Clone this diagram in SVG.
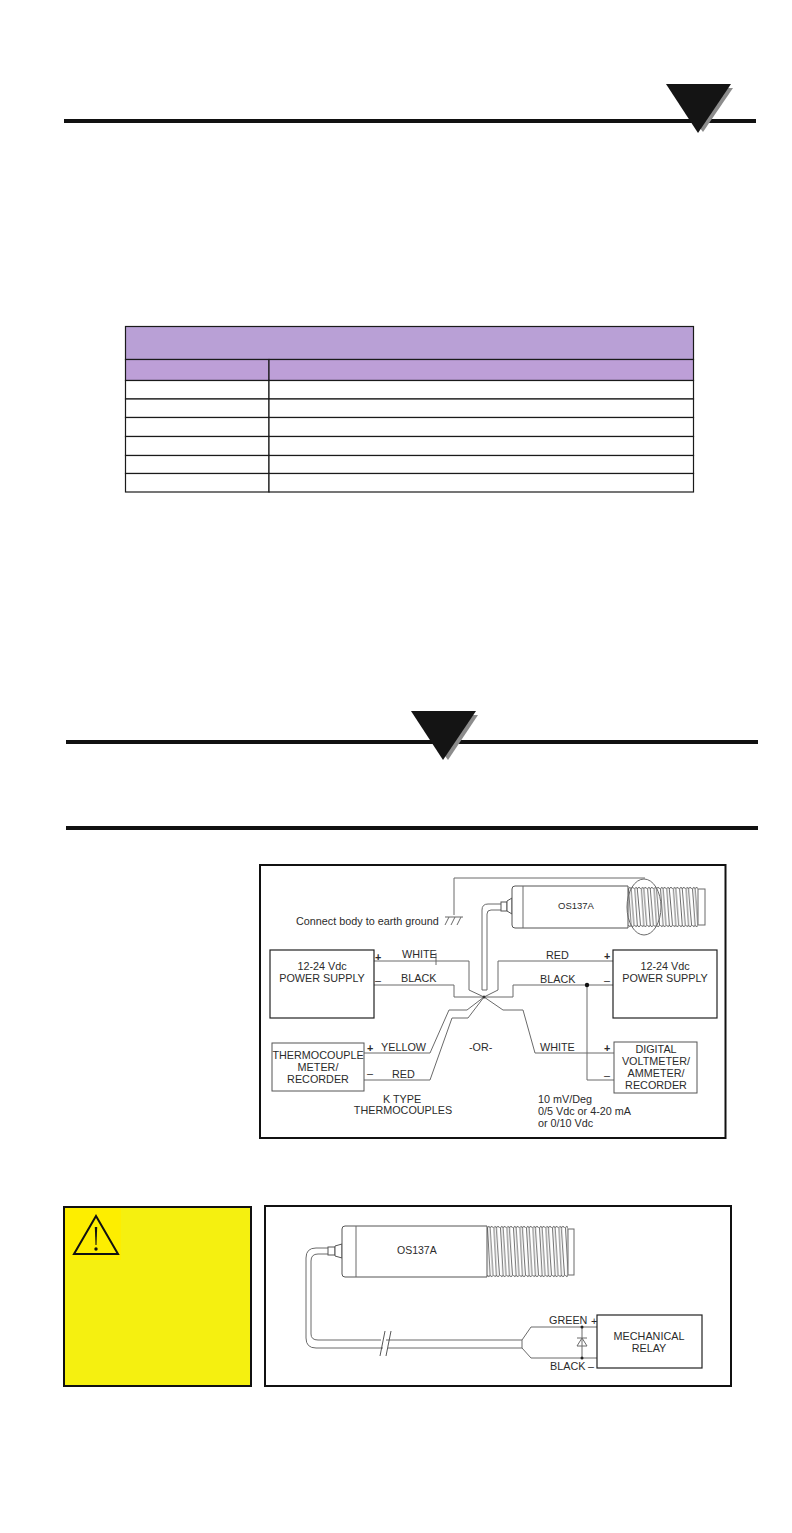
<svg xmlns="http://www.w3.org/2000/svg" width="792" height="1533" viewBox="0 0 792 1533">
<style>
text{font-family:"Liberation Sans",Arial,sans-serif;font-size:10.8px;fill:#2b2b2b}
.m{text-anchor:middle}
.w{fill:none;stroke:#6a6a6a;stroke-width:1}
.b{fill:#fff;stroke:#555;stroke-width:1}
.k{fill:#fff;stroke:#222;stroke-width:1.2}
.bar{fill:#111}
.shadow{fill:#8c8c8c}
.tri{fill:#141414}
.cell{fill:#fff;stroke:#1a1a1a;stroke-width:1.2}
.head{stroke:#1a1a1a;stroke-width:1.2}
.frame{fill:#fff;stroke:#111;stroke-width:2}
</style>
<defs>
<pattern id="thA" patternUnits="userSpaceOnUse" x="628" y="886" width="6.4" height="42">
<path d="M0.500 3Q1.800 -0.500 3 3L6 39Q4.700 42.500 3 39L0.500 3M3 3Q4.700 -0.500 6 3M0.500 39Q1.800 42.500 3 39" fill="none" stroke="#444" stroke-width="0.800"/>
</pattern>
<pattern id="thB" patternUnits="userSpaceOnUse" x="487" y="1225" width="6.5" height="53">
<path d="M0.500 3Q1.800 -0.500 3 3L6 50Q4.700 53.500 3 50L0.500 3M3 3Q4.700 -0.500 6 3M0.500 50Q1.800 53.500 3 50" fill="none" stroke="#444" stroke-width="0.800"/>
</pattern>
</defs>
<rect width="792" height="1533" fill="#fff"/>
<g id="header-rule">
<rect class="bar" x="64" y="119" width="692" height="4"/>
<polygon class="shadow" points="669,88 733,88 703,132"/>
<polygon class="tri" points="666,84 731,84 698,133"/>
</g>
<g id="spec-table">
<rect class="head" x="125.500" y="326.500" width="568" height="33" fill="#b9a0d6"/>
<rect class="head" x="125.500" y="359.500" width="143.500" height="21" fill="#bd9fd7"/>
<rect class="head" x="269" y="359.500" width="424.500" height="21" fill="#bd9fd7"/>
<rect class="cell" x="125.500" y="380.500" width="143.500" height="18.500"/><rect class="cell" x="269" y="380.500" width="424.500" height="18.500"/>
<rect class="cell" x="125.500" y="399" width="143.500" height="18.500"/><rect class="cell" x="269" y="399" width="424.500" height="18.500"/>
<rect class="cell" x="125.500" y="417.500" width="143.500" height="19"/><rect class="cell" x="269" y="417.500" width="424.500" height="19"/>
<rect class="cell" x="125.500" y="436.500" width="143.500" height="19"/><rect class="cell" x="269" y="436.500" width="424.500" height="19"/>
<rect class="cell" x="125.500" y="455.500" width="143.500" height="18"/><rect class="cell" x="269" y="455.500" width="424.500" height="18"/>
<rect class="cell" x="125.500" y="473.500" width="143.500" height="18.500"/><rect class="cell" x="269" y="473.500" width="424.500" height="18.500"/>
</g>
<g id="warning-rules">
<rect class="bar" x="66" y="740" width="692" height="4"/>
<polygon class="shadow" points="414,715 478,715 448,760"/>
<polygon class="tri" points="411,711 476,711 443,760"/>
<rect class="bar" x="66" y="826" width="692" height="4"/>
</g>
<g id="wiring-frame"><rect class="frame" x="260" y="865" width="465.500" height="273"/></g>
<g id="wiring-connectors">
<path class="w" d="M374 961H469V990L484 997"/>
<path class="w" d="M374 985H454V997H484"/>
<path class="w" d="M436 953V965"/>
<path class="w" d="M613 961H498V990L484 997"/>
<path class="w" d="M613 985H513V997H484"/>
<path class="w" d="M484 997L503 1010H523L535 1053H614"/>
<path class="w" d="M364 1053H430L449 1010H467L484 997"/>
<path class="w" d="M364 1080H430L452 1018H468L484 997"/>
<path class="w" d="M587 985V1080H614"/>
<circle cx="587" cy="985" r="2.200" fill="#111"/>
<circle cx="484" cy="997" r="1.500" fill="#333"/>
<path class="w" d="M454 915V878H645"/>
<path class="w" d="M445 917H463M449 917L445 925M455 917L451 925M461 917L457 925"/>
<path class="w" d="M482 990V910Q482 904 488 904H501M487 990V914Q487 910 491 910H501M482 990H487" stroke-width="1.200"/>
</g>
<g id="sensor-top">
<rect class="b" x="501" y="902" width="6" height="9"/>
<path class="b" d="M507 901L512 898V914L507 911Z"/>
<path d="M512 889Q512 886 515 886H628V928H515Q512 928 512 925Z" class="b"/>
<path class="w" d="M523 886V928"/>
<rect x="628" y="886" width="70" height="42" fill="url(#thA)"/>
<rect class="w" x="698" y="889" width="7" height="36"/>
<ellipse class="w" cx="644" cy="907" rx="17" ry="28" stroke="#444"/>
<text x="558" y="909" style="font-size:9.500px">OS137A</text>
</g>
<g id="power-left"><rect class="k" x="270" y="950" width="104" height="68"/><text class="m" x="322" y="970">12-24 Vdc</text><text class="m" x="322" y="982">POWER SUPPLY</text></g>
<g id="thermo-meter"><rect class="b" x="272" y="1043" width="92" height="48"/><text class="m" x="318" y="1059">THERMOCOUPLE</text><text class="m" x="318" y="1071">METER/</text><text class="m" x="318" y="1083">RECORDER</text></g>
<g id="power-right"><rect class="k" x="613" y="950" width="104" height="68"/><text class="m" x="665" y="970">12-24 Vdc</text><text class="m" x="665" y="982">POWER SUPPLY</text></g>
<g id="digital-meter"><rect class="b" x="614" y="1042" width="83" height="51"/><text class="m" x="656" y="1053">DIGITAL</text><text class="m" x="656" y="1065">VOLTMETER/</text><text class="m" x="656" y="1077">AMMETER/</text><text class="m" x="656" y="1089">RECORDER</text></g>
<g id="wiring-labels">
<text x="296" y="925">Connect body to earth ground</text>
<text x="402" y="958">WHITE</text><text x="401" y="982">BLACK</text>
<text x="381" y="1051">YELLOW</text><text x="392" y="1078">RED</text>
<text x="546" y="959">RED</text><text x="540" y="983">BLACK</text><text x="540" y="1051">WHITE</text>
<text x="469" y="1051">-OR-</text>
<text class="m" x="402" y="1103">K TYPE</text><text class="m" x="403" y="1114">THERMOCOUPLES</text>
<text x="538" y="1103">10 mV/Deg</text><text x="538" y="1115">0/5 Vdc or 4-20 mA</text><text x="538" y="1127">or 0/10 Vdc</text>
<text x="375" y="961" font-weight="bold">+</text><text x="375" y="984">–</text>
<text x="367" y="1052" font-weight="bold">+</text><text x="367" y="1077">–</text>
<text x="604" y="960" font-weight="bold">+</text><text x="604" y="984">–</text>
<text x="604" y="1052" font-weight="bold">+</text><text x="604" y="1079">–</text>
</g>
<g id="caution-box">
<rect x="64" y="1207" width="187" height="179" fill="#f5f010" stroke="#111" stroke-width="2"/>
<rect x="65" y="1208" width="56" height="52" fill="#fdee00"/>
<path d="M96 1216L118 1254H74Z" fill="none" stroke="#111" stroke-width="2"/>
<path d="M94.800 1227H97.200L96.500 1245H95.500Z" fill="#111"/>
<circle cx="96" cy="1249" r="1.700" fill="#111"/>
</g>
<g id="relay-frame"><rect class="frame" x="265" y="1206" width="466" height="180"/></g>
<g id="relay-connectors">
<path class="w" d="M328 1248H316Q306 1248 306 1258V1338Q306 1348 316 1348H383M388 1348H522L531 1358H597"/>
<path class="w" d="M328 1254H318Q311 1254 311 1261V1334Q311 1340 318 1340H381M386 1340H522L531 1327H597"/>
<path class="w" d="M522 1340V1348"/>
<path d="M380 1356L385 1331M386 1356L391 1331" fill="none" stroke="#444" stroke-width="0.900"/>
<path class="w" d="M582 1327V1358M577 1338H587M582 1338L577 1346H587Z"/>
<circle cx="582" cy="1327" r="1.500" fill="#222"/><circle cx="582" cy="1358" r="1.500" fill="#222"/>
</g>
<g id="sensor-bottom">
<rect class="b" x="328" y="1247" width="7" height="8"/>
<path class="b" d="M335 1246L342 1244V1258L335 1256Z"/>
<path class="b" d="M342 1229Q342 1226 345 1226H487V1277H345Q342 1277 342 1274Z"/>
<path class="w" d="M356 1226V1277" stroke-width="1.200"/>
<rect x="487" y="1225" width="81" height="53" fill="url(#thB)"/>
<rect class="w" x="568" y="1229" width="6" height="46"/>
<text x="397" y="1254" style="font-size:10.500px">OS137A</text>
</g>
<g id="relay"><rect class="k" x="597" y="1315" width="105" height="53"/><text class="m" x="649" y="1340">MECHANICAL</text><text class="m" x="649" y="1352">RELAY</text></g>
<g id="relay-labels"><text x="549" y="1324">GREEN</text><text x="550" y="1370">BLACK</text><text x="591" y="1325">+</text><text x="588" y="1370">–</text></g>
</svg>
